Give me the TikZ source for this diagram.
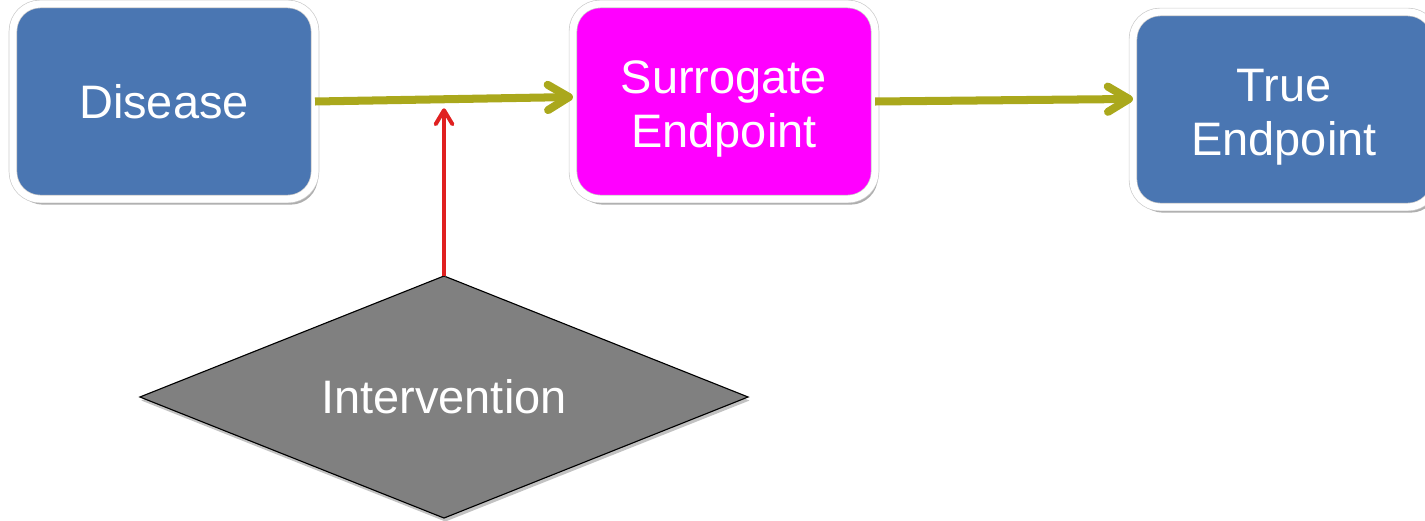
\documentclass[tikz,border=0pt]{standalone}
\usepackage{fontspec}
\setmainfont{Liberation Sans}
\usetikzlibrary{shapes.geometric,arrows.meta,shadows}

\definecolor{boxblue}{RGB}{74,118,178}
\definecolor{boxpink}{RGB}{255,0,255}
\definecolor{arrolive}{RGB}{170,168,28}
\definecolor{arrred}{RGB}{224,32,32}

% extra room above the first of two lines
\newcommand{\topgap}{\rule{0pt}{34pt}}

\tikzset{
  box/.style={rectangle, rounded corners=0.68cm, minimum width=7.55cm, minimum height=4.875cm,
    outer sep=0pt, draw=black!20, line width=0.5pt, double=white, double distance=5pt,
    align=center, text=white, font=\fontsize{33.4}{39}\selectfont,
    drop shadow={shadow xshift=2pt, shadow yshift=-4pt, fill=black!45, opacity=0.7}},
  flow/.style={draw=arrolive, line width=5.7pt, -{Straight Barb[length=15pt,width=18pt,round]},
    preaction={draw=black!40, opacity=0.4, transform canvas={xshift=1pt,yshift=-1.5pt}}},
  hit/.style={draw=arrred, line width=2.8pt, -{Straight Barb[length=10pt,width=12pt,round]},
    preaction={draw=black!40, opacity=0.4, transform canvas={xshift=1pt,yshift=-1pt}}},
}

\begin{document}
\begin{tikzpicture}[x=0.025cm,y=-0.025cm]
\useasboundingbox (0,0) rectangle (1425,520);
\clip (0,0) rectangle (1425,520);

\node[box,fill=boxblue] (dis) at (164,101.5) {Disease};
\node[box,fill=boxpink] (surr) at (724,101.5) {\topgap Surrogate\\Endpoint};
\node[box,fill=boxblue] (truep) at (1284,109.5) {\topgap True\\Endpoint};
\node[diamond, aspect=2.5, minimum width=15.2cm, minimum height=6.05cm, inner sep=0pt, outer sep=0pt,
  fill=black!50, draw=black, line width=0.8pt, text=white, font=\fontsize{33.4}{39}\selectfont,
  drop shadow={shadow xshift=1pt, shadow yshift=-2.5pt, fill=black!40, opacity=0.6}]
  (intv) at (444,397) {Intervention};

\draw[flow] (dis.east) -- coordinate[pos=0.5] (jn) ([yshift=3.2pt]surr.west);
\draw[flow] (surr.east) -- ([yshift=7.5pt]truep.west);

\path (jn) ++(0,9) coordinate (hitpt);
\draw[hit] (intv.north) -- (intv.north |- hitpt);
\end{tikzpicture}
\end{document}
